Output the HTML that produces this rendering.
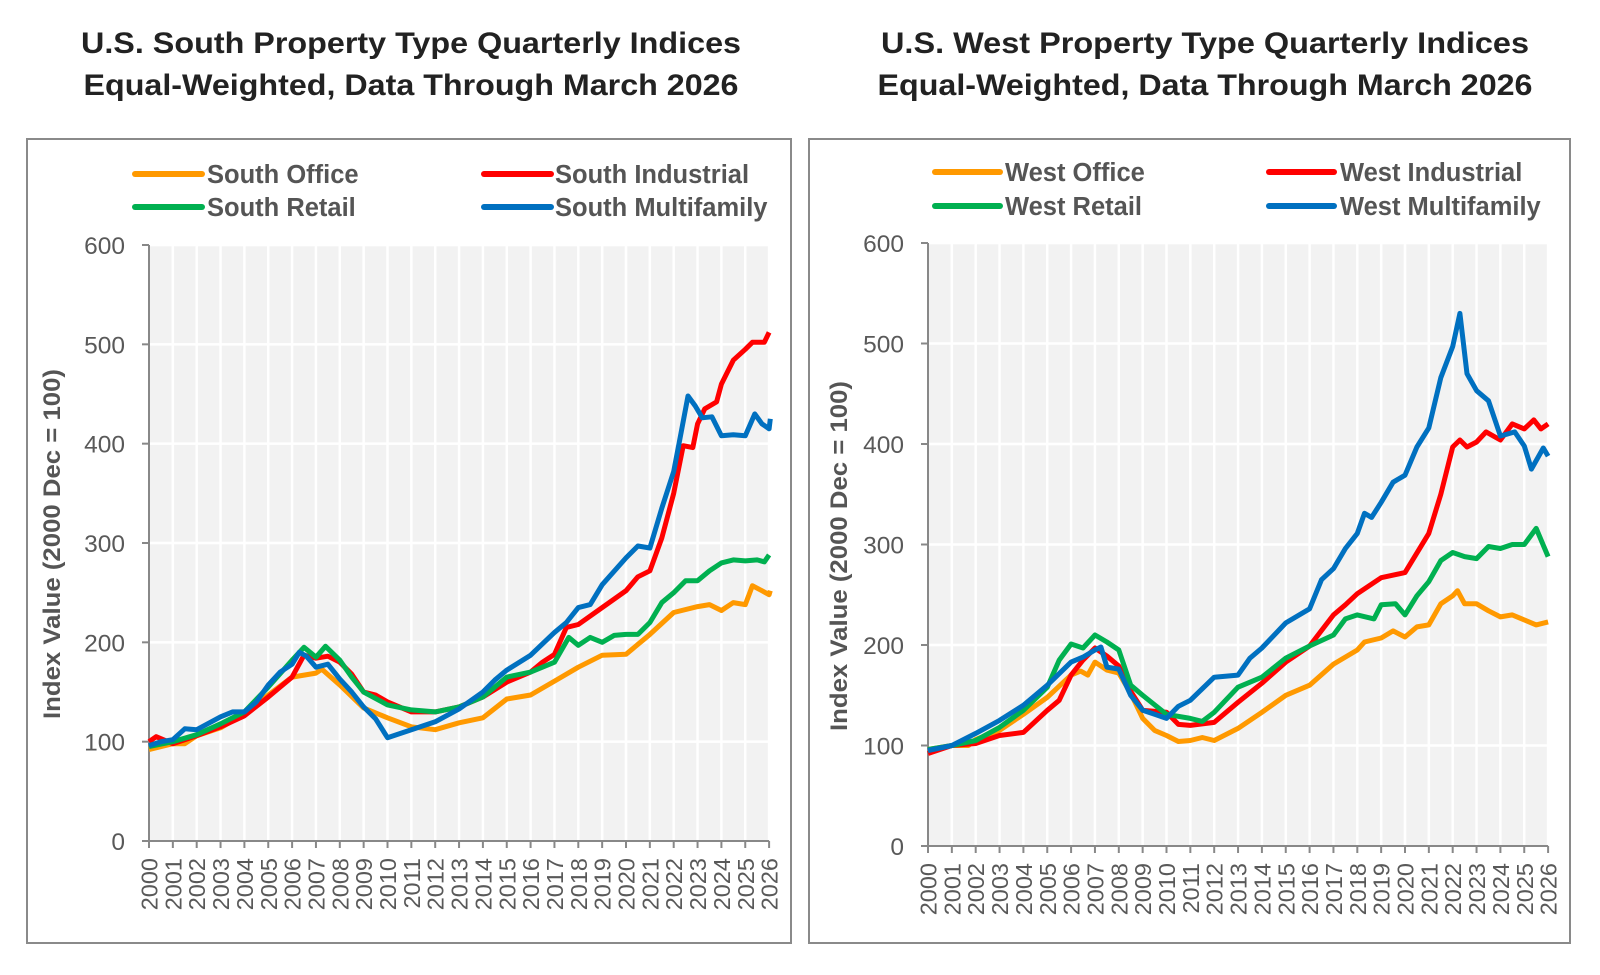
<!DOCTYPE html>
<html><head><meta charset="utf-8"><style>
html,body{margin:0;padding:0;background:#fff;}
svg{display:block;font-family:"Liberation Sans",Arial,sans-serif;}
</style></head><body>
<svg id="s" width="1600" height="975" viewBox="0 0 1600 975" xmlns="http://www.w3.org/2000/svg">
<rect width="1600" height="975" fill="#fff"/>
<g font-weight="bold" font-size="30" fill="#222" text-anchor="middle">
<text x="411" y="53" textLength="660" lengthAdjust="spacingAndGlyphs">U.S. South Property Type Quarterly Indices</text>
<text x="411" y="95" textLength="655" lengthAdjust="spacingAndGlyphs">Equal-Weighted, Data Through March 2026</text>
<text x="1205" y="53" textLength="648" lengthAdjust="spacingAndGlyphs">U.S. West Property Type Quarterly Indices</text>
<text x="1205" y="95" textLength="655" lengthAdjust="spacingAndGlyphs">Equal-Weighted, Data Through March 2026</text>
</g>
<rect x="27" y="139" width="764" height="804" fill="none" stroke="#8a8a8a" stroke-width="2"/>
<rect x="809" y="139" width="761" height="804" fill="none" stroke="#8a8a8a" stroke-width="2"/>
<g id="c1"></g><g id="c2"></g>
<g font-weight="bold" font-size="25.5" fill="#555">
<line x1="135" y1="174" x2="202" y2="174" stroke="#FF9900" stroke-width="6" stroke-linecap="round"/>
<text x="207" y="183">South Office</text>
<line x1="135" y1="207" x2="202" y2="207" stroke="#00B050" stroke-width="6" stroke-linecap="round"/>
<text x="207" y="216">South Retail</text>
<line x1="484" y1="174" x2="551" y2="174" stroke="#FF0000" stroke-width="6" stroke-linecap="round"/>
<text x="555" y="183">South Industrial</text>
<line x1="484" y1="207" x2="551" y2="207" stroke="#0070C0" stroke-width="6" stroke-linecap="round"/>
<text x="555" y="216">South Multifamily</text>
<line x1="935" y1="172" x2="1000" y2="172" stroke="#FF9900" stroke-width="6" stroke-linecap="round"/>
<text x="1005" y="181">West Office</text>
<line x1="935" y1="206" x2="1000" y2="206" stroke="#00B050" stroke-width="6" stroke-linecap="round"/>
<text x="1005" y="215">West Retail</text>
<line x1="1269" y1="172" x2="1334" y2="172" stroke="#FF0000" stroke-width="6" stroke-linecap="round"/>
<text x="1340" y="181">West Industrial</text>
<line x1="1269" y1="206" x2="1334" y2="206" stroke="#0070C0" stroke-width="6" stroke-linecap="round"/>
<text x="1340" y="215">West Multifamily</text>
</g>
<g font-weight="bold" font-size="24" fill="#555" text-anchor="middle">
<text transform="translate(60,544) rotate(-90)" textLength="350" lengthAdjust="spacingAndGlyphs">Index Value (2000 Dec = 100)</text>
<text transform="translate(847,556) rotate(-90)" textLength="350" lengthAdjust="spacingAndGlyphs">Index Value (2000 Dec = 100)</text>
</g>
</svg>
<script>
var NS="http://www.w3.org/2000/svg";
function el(p,t,a,txt){var e=document.createElementNS(NS,t);for(var k in a)e.setAttribute(k,a[k]);if(txt!=null)e.textContent=txt;p.appendChild(e);return e;}
function chart(g,x0,y0,y600,dx,series){
 var g0=document.getElementById(g);var ys=(y0-y600)/600;var x1=x0+26*dx;
 el(g0,"rect",{x:x0,y:y600,width:x1-x0,height:y0-y600,fill:"#f2f2f2"});
 for(var k=1;k<=26;k++){var x=x0+k*dx;el(g0,"line",{x1:x,y1:y600,x2:x,y2:y0,stroke:"#fff","stroke-width":2.5});}
 for(var v=100;v<=600;v+=100){var y=y0-v*ys;el(g0,"line",{x1:x0,y1:y,x2:x1,y2:y,stroke:"#fff","stroke-width":2.5});}
 el(g0,"line",{x1:x0,y1:y600,x2:x0,y2:y0,stroke:"#888","stroke-width":2});
 el(g0,"line",{x1:x0,y1:y0,x2:x1,y2:y0,stroke:"#888","stroke-width":2});
 for(var v=0;v<=600;v+=100){var y=y0-v*ys;el(g0,"line",{x1:x0-7,y1:y,x2:x0,y2:y,stroke:"#888","stroke-width":2});
  el(g0,"text",{x:x0-24,y:y+9,"font-size":24.5,fill:"#595959","text-anchor":"end"},String(v));}
 for(var k=0;k<=26;k++){var x=x0+k*dx;el(g0,"line",{x1:x,y1:y0,x2:x,y2:y0+7,stroke:"#888","stroke-width":2});
  el(g0,"text",{transform:"translate("+(x+8.5)+","+(y0+17)+") rotate(-90)","font-size":23.5,fill:"#595959","text-anchor":"end"},String(2000+k));}
 series.forEach(function(s){var pts=[];for(var i=0;i<s.d.length;i+=2){pts.push((x0+(s.d[i]-2000)*dx).toFixed(1)+","+(y0-s.d[i+1]*ys).toFixed(1));}
  el(g0,"polyline",{points:pts.join(" "),fill:"none",stroke:s.c,"stroke-width":5,"stroke-linejoin":"round"});});
}
chart("c1",149,841,245,23.85,[
{c:"#FF9900",d:[2000,92,2001,98,2001.5,98,2002,106,2003,114,2004,128,2005,147,2006,165,2007,169,2007.25,173,2008,157,2009,134,2010,124,2011,115,2012,112,2013,119,2014,124,2015,143,2016,147,2017,161,2018,175,2019,187,2020,188,2021,208,2022,230,2023,236,2023.5,238,2024,232,2024.5,240,2025,238,2025.3,257,2025.7,252,2026,248,2026.05,252]},
{c:"#FF0000",d:[2000,100,2000.3,105,2001,98,2002,106,2003,115,2004,126,2005,145,2006,165,2006.5,187,2007,184,2007.5,186,2008,180,2008.5,168,2009,150,2009.5,147,2010,140,2011,130,2012,130,2013,135,2014,145,2015,160,2016,170,2016.5,180,2017,188,2017.5,215,2018,218,2019,235,2020,252,2020.5,266,2021,272,2021.5,305,2022,350,2022.4,398,2022.8,396,2023,420,2023.3,435,2023.8,442,2024,460,2024.5,484,2025,495,2025.3,502,2025.8,502,2026,512]},
{c:"#00B050",d:[2000,95,2001,100,2002,107,2003,118,2004,130,2005,155,2006,182,2006.5,195,2007,185,2007.4,196,2008,182,2008.5,165,2009,150,2010,137,2011,132,2012,130,2013,135,2014,145,2015,165,2016,170,2017,180,2017.6,205,2018,197,2018.5,205,2019,200,2019.5,207,2020,208,2020.5,208,2021,220,2021.5,240,2022,250,2022.5,262,2023,262,2023.5,272,2024,280,2024.5,283,2025,282,2025.5,283,2025.8,281,2026,288]},
{c:"#0070C0",d:[2000,96,2000.5,100,2001,102,2001.5,113,2002,112,2003,125,2003.5,130,2004,130,2004.5,140,2005,157,2005.5,170,2006,178,2006.3,190,2006.6,186,2007,175,2007.5,178,2008,163,2008.5,150,2009,135,2009.5,123,2010,104,2010.5,108,2011,112,2012,120,2013,133,2014,150,2014.5,162,2015,172,2016,187,2017,210,2017.5,220,2018,235,2018.5,238,2019,258,2020,285,2020.5,297,2021,295,2021.5,335,2022,372,2022.3,410,2022.6,448,2022.9,438,2023.2,426,2023.6,427,2024,408,2024.5,409,2025,408,2025.4,430,2025.7,420,2026,415,2026.05,425]}
]);
chart("c2",928,846,243,23.85,[
{c:"#FF9900",d:[2000,96,2001,100,2001.7,100,2002,106,2003,115,2004,131,2005,148,2006,170,2006.4,174,2006.7,170,2007,183,2007.5,175,2008,172,2008.5,152,2009,127,2009.5,115,2010,110,2010.5,104,2011,105,2011.5,108,2012,105,2013,117,2014,133,2015,150,2016,160,2017,181,2018,195,2018.3,203,2019,207,2019.5,214,2020,208,2020.5,218,2021,220,2021.5,241,2022,249,2022.2,254,2022.5,241,2023,241,2023.5,234,2024,228,2024.5,230,2025,225,2025.5,220,2026,223]},
{c:"#FF0000",d:[2000,92,2001,100,2002,102,2003,110,2004,113,2005,135,2005.5,145,2006,170,2006.5,185,2007,197,2007.5,189,2008,179,2008.5,154,2009,135,2010,133,2010.5,121,2011,120,2012,123,2013,143,2014,162,2015,183,2016,199,2017,230,2017.5,240,2018,251,2019,267,2020,272,2021,311,2021.5,350,2022,397,2022.3,404,2022.6,397,2023,402,2023.4,412,2024,404,2024.5,420,2025,415,2025.4,424,2025.7,415,2026,420]},
{c:"#00B050",d:[2000,96,2001,100,2002,105,2003,118,2004,135,2005,158,2005.5,185,2006,201,2006.5,197,2007,210,2007.5,203,2008,195,2008.5,160,2009,150,2010,131,2011,127,2011.5,124,2012,133,2013,158,2014,168,2015,187,2016,199,2017,210,2017.5,226,2018,230,2018.7,226,2019,240,2019.6,241,2020,230,2020.5,249,2021,263,2021.5,284,2022,292,2022.5,288,2023,286,2023.5,298,2024,296,2024.5,300,2025,300,2025.5,316,2026,288]},
{c:"#0070C0",d:[2000,95,2001,100,2002,112,2003,125,2004,140,2005,160,2006,183,2006.5,188,2007,195,2007.25,198,2007.5,178,2008,176,2008.5,150,2009,135,2009.5,131,2010,127,2010.5,139,2011,145,2012,168,2013,170,2013.5,187,2014,197,2015,222,2016,236,2016.5,265,2017,276,2017.5,296,2018,311,2018.3,331,2018.6,327,2019,342,2019.5,362,2020,369,2020.5,397,2021,416,2021.5,466,2022,497,2022.3,530,2022.6,470,2023,453,2023.5,443,2024,408,2024.3,410,2024.6,412,2025,398,2025.3,375,2025.8,396,2026,388]}
]);
</script>
</body></html>
